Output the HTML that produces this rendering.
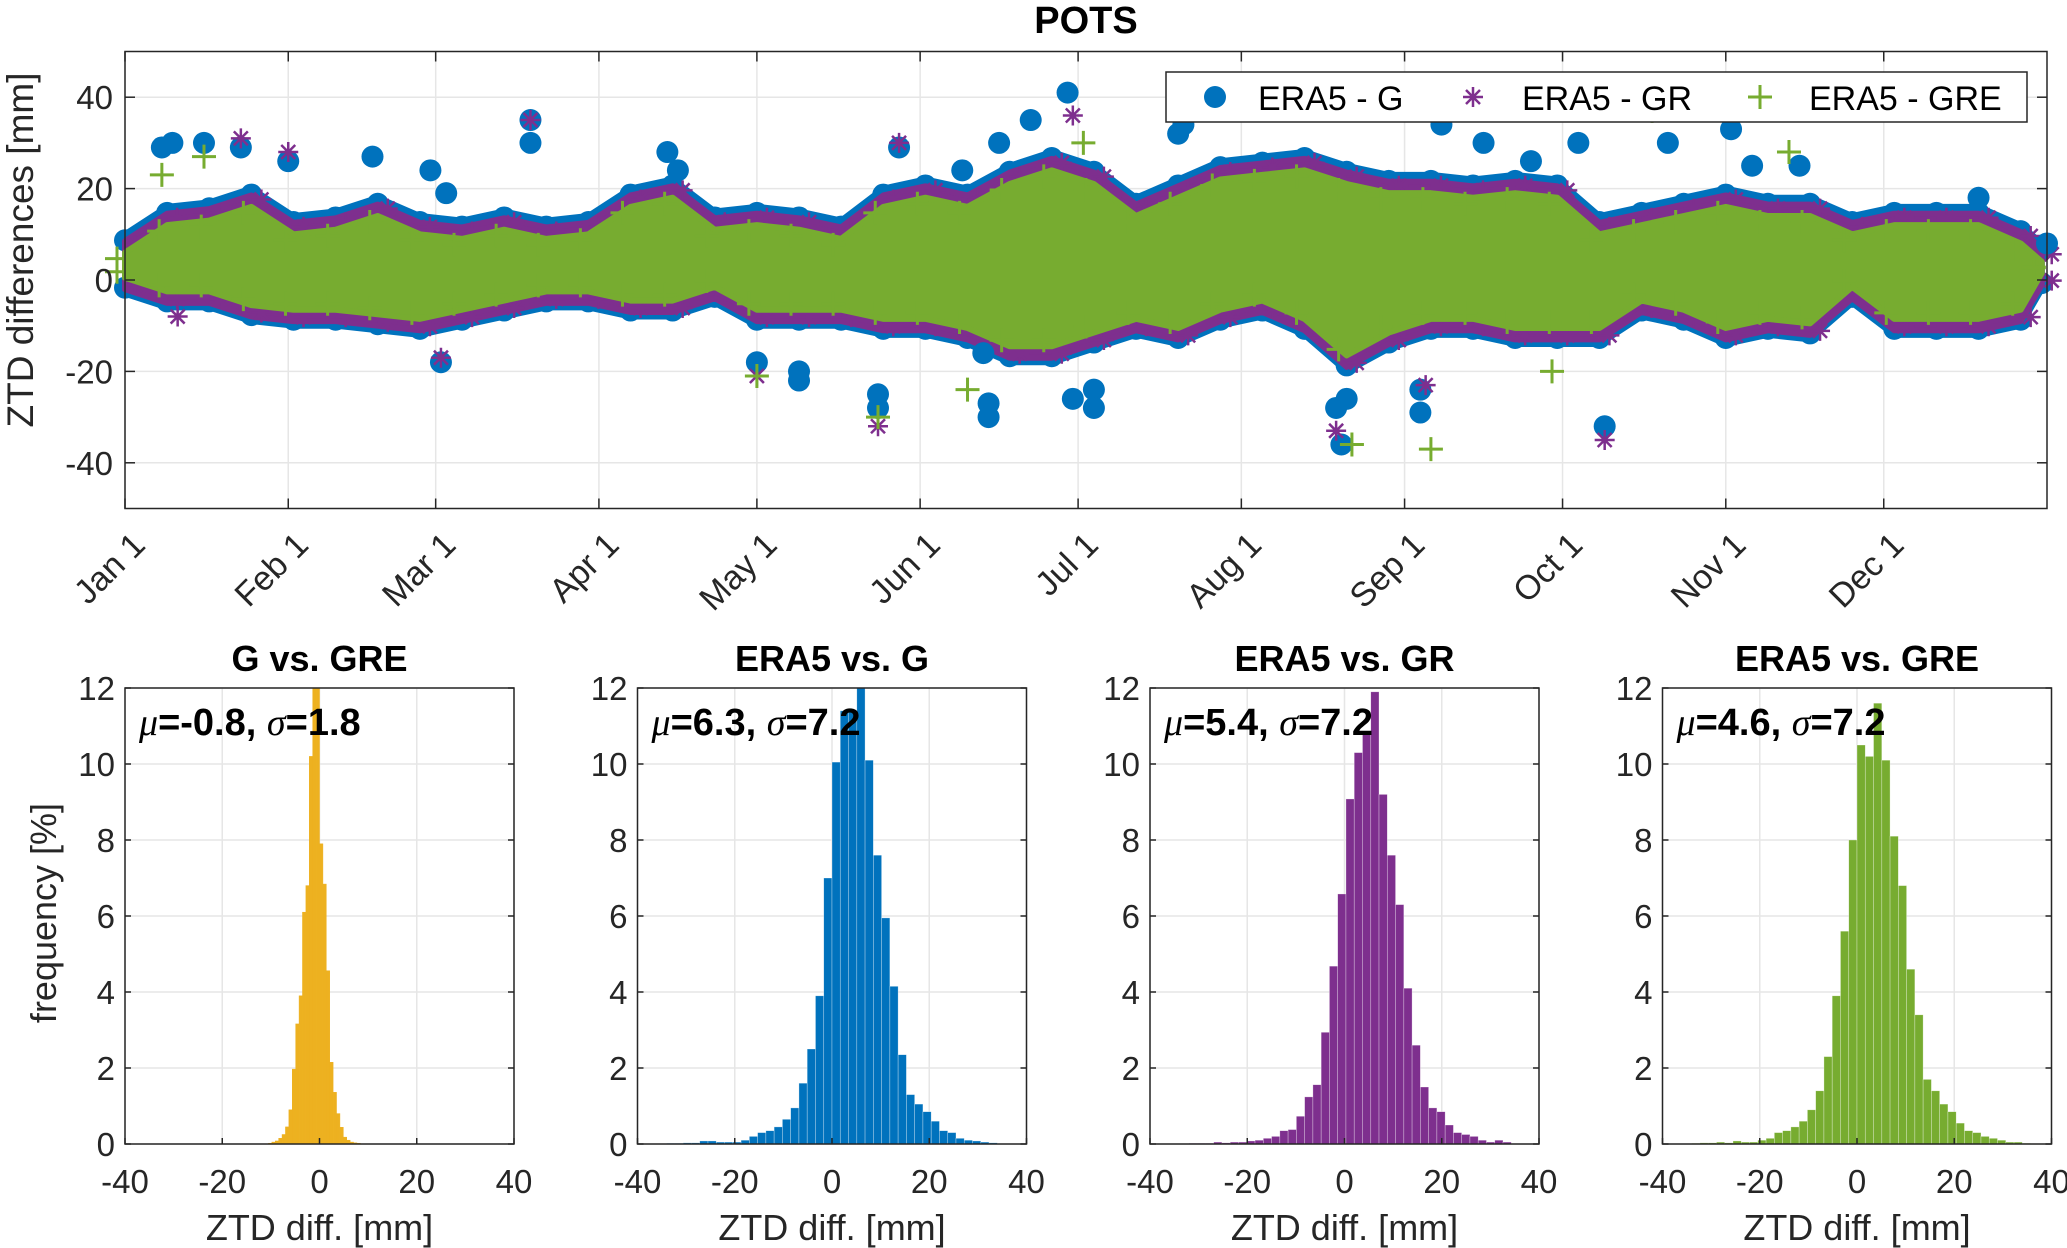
<!DOCTYPE html>
<html><head><meta charset="utf-8"><style>
html,body{margin:0;padding:0;background:#fff}
svg{display:block}
text{font-family:"Liberation Sans",Arial,sans-serif;fill:#262626}
</style></head><body>
<svg id="fig" width="2067" height="1248" viewBox="0 0 2067 1248" xmlns="http://www.w3.org/2000/svg">
<rect width="2067" height="1248" fill="#fff"/>
<g id="topchart"></g>
<g id="hists"></g>
</svg>
<script>
// ---- time series data (day of year, mm) ----
const bandDays = [0,8,16,24,32,40,48,56,64,72,80,88,96,104,112,120,128,136,144,152,160,168,176,184,192,200,208,216,224,232,240,248,256,264,272,280,288,296,304,312,320,328,336,344,352,360,364];
const bandHi = [10,16,17,20,14,15,18,14,13,15,13,14,20,22,15,16,15,13,20,22,20,25,28,25,18,22,26,27,28,25,23,23,22,23,22,14,16,18,20,18,18,14,16,16,16,12,8];
const bandLo = [-3,-6,-6,-9,-10,-10,-11,-12,-10,-8,-6,-6,-8,-8,-5,-10,-10,-10,-12,-12,-14,-18,-18,-15,-12,-14,-10,-8,-12,-20,-15,-12,-12,-14,-14,-14,-8,-10,-14,-12,-13,-5,-12,-12,-12,-10,-2];
const outG = [[7,29],[9,30],[15,30],[22,29],[31,26],[47,27],[58,24],[61,19],[60,-18],[77,35],[77,30],[103,28],[105,24],[120,-18],[128,-20],[128,-22],[143,-25],[143,-28],[147,29],[159,24],[163,-16],[164,-27],[164,-30],[166,30],[172,35],[179,41],[180,-26],[184,-24],[184,-28],[200,32],[201,34],[230,-28],[231,-36],[232,-26],[246,-24],[246,-29],[250,34],[258,30],[267,26],[276,30],[281,-32],[293,30],[305,33],[309,25],[318,25],[352,18],[365,8]];
const outGR = [[77,35],[10,-8],[143,-32],[230,-33],[281,-35],[247,-23],[22,31],[31,28],[147,30],[180,36],[60,-17],[120,-21]];
const outGRE = [[248,-37],[233,-36],[160,-24],[120,-21],[290,37],[316,28],[271,-20],[7,23],[15,27],[182,30],[143,-30]];
const monthTicks = [0,31,59,90,120,151,181,212,243,273,304,334];
const monthLabels = ["Jan 1","Feb 1","Mar 1","Apr 1","May 1","Jun 1","Jul 1","Aug 1","Sep 1","Oct 1","Nov 1","Dec 1"];
const yTicks = [-40,-20,0,20,40];

// ---- histogram data ----
const histTitles = ["G vs. GRE","ERA5 vs. G","ERA5 vs. GR","ERA5 vs. GRE"];
const histMu = ["-0.8","6.3","5.4","4.6"];
const histSigma = ["1.8","7.2","7.2","7.2"];
const histStart = [-10.5,-34,-32,-34];
const histWidth = [0.7,1.7,1.7,1.7];
const hist1 = [0.02,0.05,0.08,0.15,0.25,0.45,0.9,1.97,3.16,3.9,6.1,6.8,10.2,12.5,12.5,7.9,6.84,4.56,2.15,1.36,0.8,0.44,0.18,0.1,0.05,0.03,0.02];
const hist2 = [0.02,0.02,0.03,0.03,0.08,0.08,0.05,0.05,0.05,0.1,0.2,0.3,0.35,0.45,0.65,0.95,1.6,2.5,3.9,7.0,10.05,11.4,11.4,12.5,10.1,7.6,5.95,4.15,2.35,1.3,1.05,0.85,0.6,0.35,0.3,0.15,0.1,0.08,0.05,0.03];
const hist3 = [0.02,0.02,0.02,0.05,0.03,0.05,0.05,0.08,0.1,0.15,0.2,0.35,0.38,0.73,1.24,1.56,2.94,4.68,6.58,9.08,10.3,10.8,11.9,9.2,7.6,6.3,4.1,2.6,1.5,0.95,0.85,0.5,0.3,0.25,0.2,0.1,0.05,0.1,0.05];
const hist4 = [0.02,0.03,0.03,0.05,0.03,0.08,0.05,0.05,0.1,0.15,0.3,0.35,0.45,0.6,0.9,1.4,2.3,3.9,5.6,8.0,10.5,10.2,11.6,10.1,8.1,6.8,4.6,3.4,1.7,1.4,1.05,0.85,0.55,0.35,0.3,0.2,0.15,0.1,0.05,0.05,0.02];
const histColors = ["#EDB120","#0072BD","#7E2F8E","#77AC30"];
const hTicksY = [0,2,4,6,8,10,12];
const hTicksX = [-40,-20,0,20,40];

const NS="http://www.w3.org/2000/svg";
function mk(tag, attrs, parent){const e=document.createElementNS(NS,tag);for(const k in attrs)e.setAttribute(k,attrs[k]);parent.appendChild(e);return e;}

// ===== top chart =====
const topG=document.getElementById('topchart');
const L=125,R=2047,T=51.5,B=508.5;
const xD=d=>L+(d/365)*(R-L);
const yV=v=>280-v*4.57;
let g=mk('g',{},topG);


monthTicks.forEach(d=>{const l=mk('line',{x1:xD(d),x2:xD(d),y1:T,y2:B,stroke:'#e6e6e6','stroke-width':1.5},g);});
yTicks.forEach(v=>{const l=mk('line',{x1:L,x2:R,y1:yV(v),y2:yV(v),stroke:'#e6e6e6','stroke-width':1.5},g);});

function bandPoly(color, dHi, dLo, name){
  let pts=[];
  bandDays.forEach((d,i)=>pts.push(xD(d)+','+yV(bandHi[i]+dHi)));
  for(let i=bandDays.length-1;i>=0;i--)pts.push(xD(bandDays[i])+','+yV(bandLo[i]+dLo));
  const p=mk('polygon',{points:pts.join(' '),fill:color,stroke:color,'stroke-width':6,'stroke-linejoin':'round'},topG);
  
  
}
function circle(x,y,parent){const c=mk('circle',{cx:x,cy:y,r:11,fill:'#0072BD'},parent||topG);}
function star(x,y,parent){const s=mk('path',{d:`M${x-10} ${y}H${x+10}M${x} ${y-10}V${y+10}M${x-7} ${y-7}L${x+7} ${y+7}M${x-7} ${y+7}L${x+7} ${y-7}`,stroke:'#7E2F8E','stroke-width':2.5,fill:'none'},parent||topG);}
function plus(x,y,parent){const s=mk('path',{d:`M${x-12} ${y}H${x+12}M${x} ${y-12}V${y+12}`,stroke:'#77AC30','stroke-width':3,fill:'none'},parent||topG);}

bandPoly('#0072BD',0,0,'era5-g-band');
bandDays.forEach((d,i)=>{circle(xD(d),yV(bandHi[i])+6);circle(xD(d),yV(bandLo[i])-6);});
bandPoly('#7E2F8E',-1.5,1,'era5-gr-band');
bandDays.forEach((d,i)=>{star(xD(d)+10,yV(bandHi[i]-1.5)+4);star(xD(d)+10,yV(bandLo[i]+1)-4);});
bandPoly('#77AC30',-4,3.5,'era5-gre-band');
bandDays.forEach((d,i)=>{plus(xD(d)-8,yV(bandHi[i]-4)+6);plus(xD(d)-8,yV(bandLo[i]+3.5)-6);});

outG.forEach(p=>circle(xD(p[0]),yV(p[1])));
outGR.forEach(p=>star(xD(p[0]),yV(p[1])));
outGRE.forEach(p=>plus(xD(p[0]),yV(p[1])));

let ax=mk('rect',{x:L,y:T,width:R-L,height:B-T,fill:'none',stroke:'#262626','stroke-width':1.5},topG);

yTicks.forEach(v=>{
  mk('line',{x1:L,x2:L+10,y1:yV(v),y2:yV(v),stroke:'#262626','stroke-width':1.5},topG);
  mk('line',{x1:R-10,x2:R,y1:yV(v),y2:yV(v),stroke:'#262626','stroke-width':1.5},topG);
  const t=mk('text',{x:L-12,y:yV(v)+12,'text-anchor':'end','font-size':33},topG);t.textContent=v;
  
});
monthTicks.forEach((d,i)=>{
  mk('line',{x1:xD(d),x2:xD(d),y1:B,y2:B-10,stroke:'#262626','stroke-width':1.5},topG);
  mk('line',{x1:xD(d),x2:xD(d),y1:T,y2:T+10,stroke:'#262626','stroke-width':1.5},topG);
  const t=mk('text',{x:0,y:0,'text-anchor':'end','font-size':34,transform:`translate(${xD(d)+22},${547}) rotate(-45)`},topG);t.textContent=monthLabels[i];
  
});
let tt=mk('text',{x:1086,y:33,'text-anchor':'middle','font-size':38,'font-weight':'bold',style:'fill:#000'},topG);tt.textContent='POTS';

let yl=mk('text',{x:0,y:0,'text-anchor':'middle','font-size':37,transform:'translate(33,250) rotate(-90)'},topG);yl.textContent='ZTD differences [mm]';


// legend
let lg=mk('g',{},topG);

mk('rect',{x:1166,y:72,width:861,height:50,fill:'#fff',stroke:'#262626','stroke-width':1.5},lg);
mk('circle',{cx:1215,cy:97,r:11,fill:'#0072BD'},lg);
star(1473,97,lg);plus(1760,97,lg);
[["ERA5 - G",1258],["ERA5 - GR",1522],["ERA5 - GRE",1809]].forEach(a=>{const t=mk('text',{x:a[1],y:110,'font-size':34,style:'fill:#000'},lg);t.textContent=a[0];});

// ===== histograms =====
const H=document.getElementById('hists');
const hData=[hist1,hist2,hist3,hist4];
const pL=[125,637.5,1150,1662.5],pW=389,hT=688,hB=1144;
hData.forEach((vals,k)=>{
  const gp=mk('g',{},H);
  
  
  const x0=pL[k];
  const hx=v=>x0+(v+40)/80*pW;
  const hy=v=>hB-(Math.min(v,12.3))/12*(hB-hT);
  hTicksX.forEach(v=>mk('line',{x1:hx(v),x2:hx(v),y1:hT,y2:hB,stroke:'#e6e6e6','stroke-width':1.5},gp));
  hTicksY.forEach(v=>mk('line',{x1:x0,x2:x0+pW,y1:hy(v),y2:hy(v),stroke:'#e6e6e6','stroke-width':1.5},gp));
  vals.forEach((v,i)=>{
    const a=histStart[k]+i*histWidth[k];
    const r=mk('rect',{x:hx(a),y:Math.max(hy(v),hT),width:hx(a+histWidth[k])-hx(a),height:hB-Math.max(hy(v),hT),fill:histColors[k],stroke:k==0?histColors[k]:'#ffffff','stroke-width':k==0?0.5:0.6,'stroke-opacity':k==0?1:0.5},gp);
    
    
  });
  mk('rect',{x:x0,y:hT,width:pW,height:hB-hT,fill:'none',stroke:'#262626','stroke-width':1.5},gp);
  hTicksY.forEach(v=>{
    mk('line',{x1:x0,x2:x0+6,y1:hy(v),y2:hy(v),stroke:'#262626','stroke-width':1.5},gp);
    mk('line',{x1:x0+pW-6,x2:x0+pW,y1:hy(v),y2:hy(v),stroke:'#262626','stroke-width':1.5},gp);
    const t=mk('text',{x:x0-10,y:hy(v)+12,'text-anchor':'end','font-size':33},gp);t.textContent=v;
    
  });
  hTicksX.forEach(v=>{
    mk('line',{x1:hx(v),x2:hx(v),y1:hB,y2:hB-6,stroke:'#262626','stroke-width':1.5},gp);
    const t=mk('text',{x:hx(v),y:1193,'text-anchor':'middle','font-size':33},gp);t.textContent=v;
    
  });
  const ti=mk('text',{x:x0+pW/2,y:671,'text-anchor':'middle','font-size':36,'font-weight':'bold',style:'fill:#000'},gp);ti.textContent=histTitles[k];
  
  const an=mk('text',{x:x0+14,y:735,'font-size':38,'font-weight':'bold',style:'fill:#000'},gp);
  const s1=mk('tspan',{'font-style':'italic','font-family':'Liberation Serif','font-weight':'normal'},an);s1.textContent='μ';
  const s2=mk('tspan',{},an);s2.textContent='='+histMu[k]+', ';
  const s3=mk('tspan',{'font-style':'italic','font-family':'Liberation Serif','font-weight':'normal'},an);s3.textContent='σ';
  const s4=mk('tspan',{},an);s4.textContent='='+histSigma[k];
  
  const xl=mk('text',{x:x0+pW/2,y:1240,'text-anchor':'middle','font-size':36},gp);xl.textContent='ZTD diff. [mm]';
  
});
let fl=mk('text',{x:0,y:0,'text-anchor':'middle','font-size':36,transform:'translate(56,913) rotate(-90)'},H);fl.textContent='frequency [%]';

</script>
</body></html>
